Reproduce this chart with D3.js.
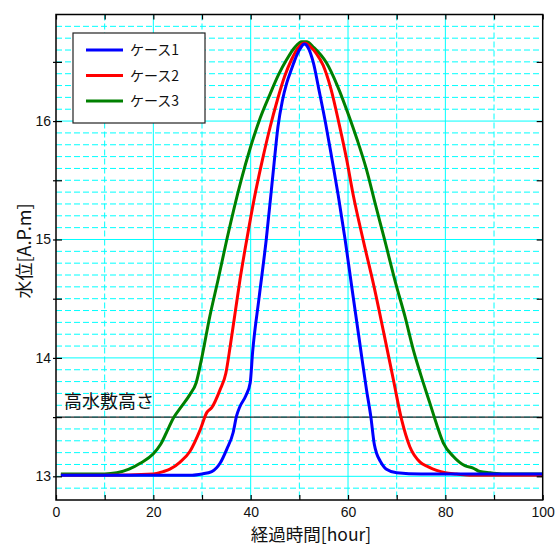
<!DOCTYPE html>
<html><head><meta charset="utf-8">
<script src="https://cdn.jsdelivr.net/npm/d3@7/dist/d3.min.js"></script>
<style>
html,body{margin:0;padding:0;background:#fff;}
svg{display:block;font-family:"Liberation Sans","Noto Sans CJK JP",Arial,sans-serif;}
</style></head>
<body>
<svg id="chart" width="556" height="546"></svg>
<script>
// ---- data ----
const seriesNames = ["ケース1", "ケース2", "ケース3"];
const seriesColors = ["#0000ff", "#ff0000", "#008000"];

const case1Hours  = [1, 10, 20, 28, 30, 32, 33.7, 35.1, 36.4, 37.1, 37.8, 39, 39.9, 40.4, 41.7, 43.2, 44.7, 45.6, 46.5, 47.4, 48.4, 49.5, 50.3, 51, 51.8, 52.9, 54, 55.4, 56.7, 58, 59.4, 60.8, 62.5, 63.8, 64.7, 65.4, 65.9, 66.6, 67.9, 70, 75, 80, 85, 90, 95, 100];
const case1Levels = [13.01, 13.01, 13.01, 13.01, 13.02, 13.04, 13.11, 13.23, 13.37, 13.51, 13.59, 13.68, 13.79, 14.05, 14.50, 15.00, 15.60, 15.95, 16.17, 16.32, 16.44, 16.56, 16.62, 16.65, 16.62, 16.49, 16.27, 15.98, 15.68, 15.37, 15.00, 14.59, 14.10, 13.73, 13.50, 13.27, 13.19, 13.13, 13.06, 13.03, 13.02, 13.02, 13.02, 13.02, 13.02, 13.02];

const case2Hours  = [1, 10, 20, 22, 23.4, 25.5, 27.5, 29.6, 31, 32, 33.7, 34.9, 35.8, 36.8, 37.8, 39.2, 40.8, 42.4, 44, 45.5, 47, 48.4, 49.6, 50.5, 51.2, 52.2, 53.5, 54.9, 56.5, 58.2, 59.7, 61.1, 63.2, 65.3, 67.3, 69.3, 71, 72.7, 74.8, 76.5, 78.2, 80, 82.3, 85, 90, 95, 100];
const case2Levels = [13.01, 13.01, 13.02, 13.04, 13.06, 13.12, 13.21, 13.39, 13.54, 13.58, 13.73, 13.87, 14.10, 14.38, 14.66, 15.00, 15.36, 15.67, 15.95, 16.18, 16.38, 16.52, 16.61, 16.65, 16.66, 16.63, 16.57, 16.47, 16.27, 15.97, 15.68, 15.37, 14.98, 14.61, 14.22, 13.82, 13.48, 13.25, 13.12, 13.08, 13.05, 13.03, 13.02, 13.01, 13.01, 13.01, 13.01];

const case3Hours  = [1, 5, 10, 12.5, 15, 17.3, 20, 21.5, 22.7, 24.1, 25.8, 27.5, 28.8, 29.9, 31.6, 33.3, 35.1, 38.1, 39.9, 41.9, 44, 45.7, 47.4, 49, 50.5, 51.5, 53, 55.6, 57.8, 60.3, 61.9, 63.8, 65.6, 67.5, 69.8, 71.7, 73.4, 75, 76.8, 78.2, 79.6, 81.6, 84, 85.7, 87.1, 89.2, 92, 95, 100];
const case3Levels = [13.02, 13.02, 13.02, 13.03, 13.06, 13.11, 13.19, 13.27, 13.37, 13.49, 13.59, 13.69, 13.79, 13.99, 14.35, 14.66, 15.00, 15.51, 15.77, 16.02, 16.23, 16.39, 16.52, 16.62, 16.67, 16.67, 16.62, 16.49, 16.30, 16.03, 15.84, 15.59, 15.30, 15.00, 14.63, 14.35, 14.07, 13.85, 13.62, 13.44, 13.28, 13.17, 13.09, 13.07, 13.04, 13.03, 13.02, 13.02, 13.02];

const xTickValues = [0, 10, 20, 30, 40, 50, 60, 70, 80, 90, 100];
const xTickLabels = ["0", "", "20", "", "40", "", "60", "", "80", "", "100"];
const yTickValues = [13, 13.5, 14, 14.5, 15, 15.5, 16, 16.5];
const yTickLabels = ["13", "", "14", "", "15", "", "16", ""];
const floodplainLevel = 13.5;
const floodplainLabel = "高水敷高さ";
const xTitle = "経過時間[hour]";
const yTitle = "水位[A.P.m]";

// ---- chart ----
const svg = d3.select("#chart");
const L = 56, R = 542.7, T = 14.5, B = 500;
const x = d3.scaleLinear().domain([0, 100]).range([L, R]);
const y = d3.scaleLinear().domain([12.8, 16.9]).range([B, T]);

// grid
const grid = svg.append("g");
const hVals = d3.range(129, 170).map(d => d / 10);
grid.selectAll("line.h").data(hVals).join("line")
  .attr("x1", L).attr("x2", R)
  .attr("y1", d => y(d)).attr("y2", d => y(d))
  .attr("stroke", "#00ffff").attr("stroke-width", 1)
  .attr("stroke-dasharray", d => Math.abs(d - Math.round(d)) < 1e-6 ? null : "6,3");
const vVals = d3.range(10, 100, 10);
grid.selectAll("line.v").data(vVals).join("line")
  .attr("y1", T).attr("y2", B)
  .attr("x1", d => x(d)).attr("x2", d => x(d))
  .attr("stroke", "#00ffff").attr("stroke-width", 1)
  .attr("stroke-dasharray", d => d % 20 === 0 ? null : "6,3");

// floodplain line
svg.append("line").attr("x1", L).attr("x2", R)
  .attr("y1", y(floodplainLevel)).attr("y2", y(floodplainLevel))
  .attr("stroke", "#222").attr("stroke-width", 1.2);
svg.append("text").attr("x", 64).attr("y", y(floodplainLevel) - 9)
  .attr("font-size", 18).attr("fill", "#111")
  .attr("font-family", "'Noto Sans CJK JP',sans-serif")
  .text(floodplainLabel);

// curves
svg.append("clipPath").attr("id", "clip").append("rect")
  .attr("x", L).attr("y", T).attr("width", R - L).attr("height", B - T);
const line = d3.line().x(d => x(d[0])).y(d => y(d[1])).curve(d3.curveMonotoneX);
const series = [
  d3.zip(case1Hours, case1Levels),
  d3.zip(case2Hours, case2Levels),
  d3.zip(case3Hours, case3Levels)
];
const curves = svg.append("g").attr("clip-path", "url(#clip)");
[2, 1, 0].forEach(i => {
  curves.append("path").datum(series[i])
    .attr("d", line).attr("fill", "none")
    .attr("stroke", seriesColors[i]).attr("stroke-width", 3)
    .attr("stroke-linejoin", "round");
});

// axes
const axB = svg.append("g").attr("transform", `translate(0,${B})`)
  .call(d3.axisBottom(x).tickValues(xTickValues).tickSize(-5).tickPadding(7)
    .tickFormat((d, i) => xTickLabels[i]));
const axT = svg.append("g").attr("transform", `translate(0,${T})`)
  .call(d3.axisTop(x).tickValues(xTickValues).tickSize(-5).tickFormat(""));
const axL = svg.append("g").attr("transform", `translate(${L},0)`)
  .call(d3.axisLeft(y).tickValues(yTickValues).tickSize(3).tickPadding(2)
    .tickFormat((d, i) => yTickLabels[i]));
axL.selectAll(".tick line").attr("x1", 6);
const axR = svg.append("g").attr("transform", `translate(${R},0)`)
  .call(d3.axisRight(y).tickValues(yTickValues).tickSize(-6).tickFormat(""));
[axB, axT, axL, axR].forEach(a => {
  a.select(".domain").remove();
  a.selectAll(".tick line").attr("stroke", "#000").attr("stroke-width", 1.2);
  a.selectAll("text").attr("font-size", 14).attr("fill", "#111")
    .attr("font-family", "'Liberation Sans',Arial,sans-serif");
});

// frame
svg.append("rect").attr("x", L).attr("y", T).attr("width", R - L).attr("height", B - T)
  .attr("fill", "none").attr("stroke", "#000").attr("stroke-width", 1.5);

// titles
svg.append("text").attr("x", 311).attr("y", 541).attr("text-anchor", "middle")
  .attr("font-size", 17.5).attr("fill", "#111")
  .attr("font-family", "'Noto Sans CJK JP',sans-serif").text(xTitle);
svg.append("text").attr("transform", "translate(31,251) rotate(-90)")
  .attr("text-anchor", "middle").attr("font-size", 18).attr("fill", "#111")
  .attr("font-family", "'Noto Sans CJK JP',sans-serif").text(yTitle);

// legend
const lg = svg.append("g");
lg.append("rect").attr("x", 73).attr("y", 33).attr("width", 132).attr("height", 90)
  .attr("fill", "#fff").attr("stroke", "#222").attr("stroke-width", 1.2);
seriesNames.forEach((name, i) => {
  const yy = 50 + i * 25.5;
  lg.append("line").attr("x1", 86).attr("x2", 123).attr("y1", yy).attr("y2", yy)
    .attr("stroke", seriesColors[i]).attr("stroke-width", 3);
  lg.append("text").attr("x", 130).attr("y", yy + 5).attr("font-size", 14)
    .attr("fill", "#111").attr("font-family", "'Noto Sans CJK JP',sans-serif").text(name);
});
</script>
</body></html>
